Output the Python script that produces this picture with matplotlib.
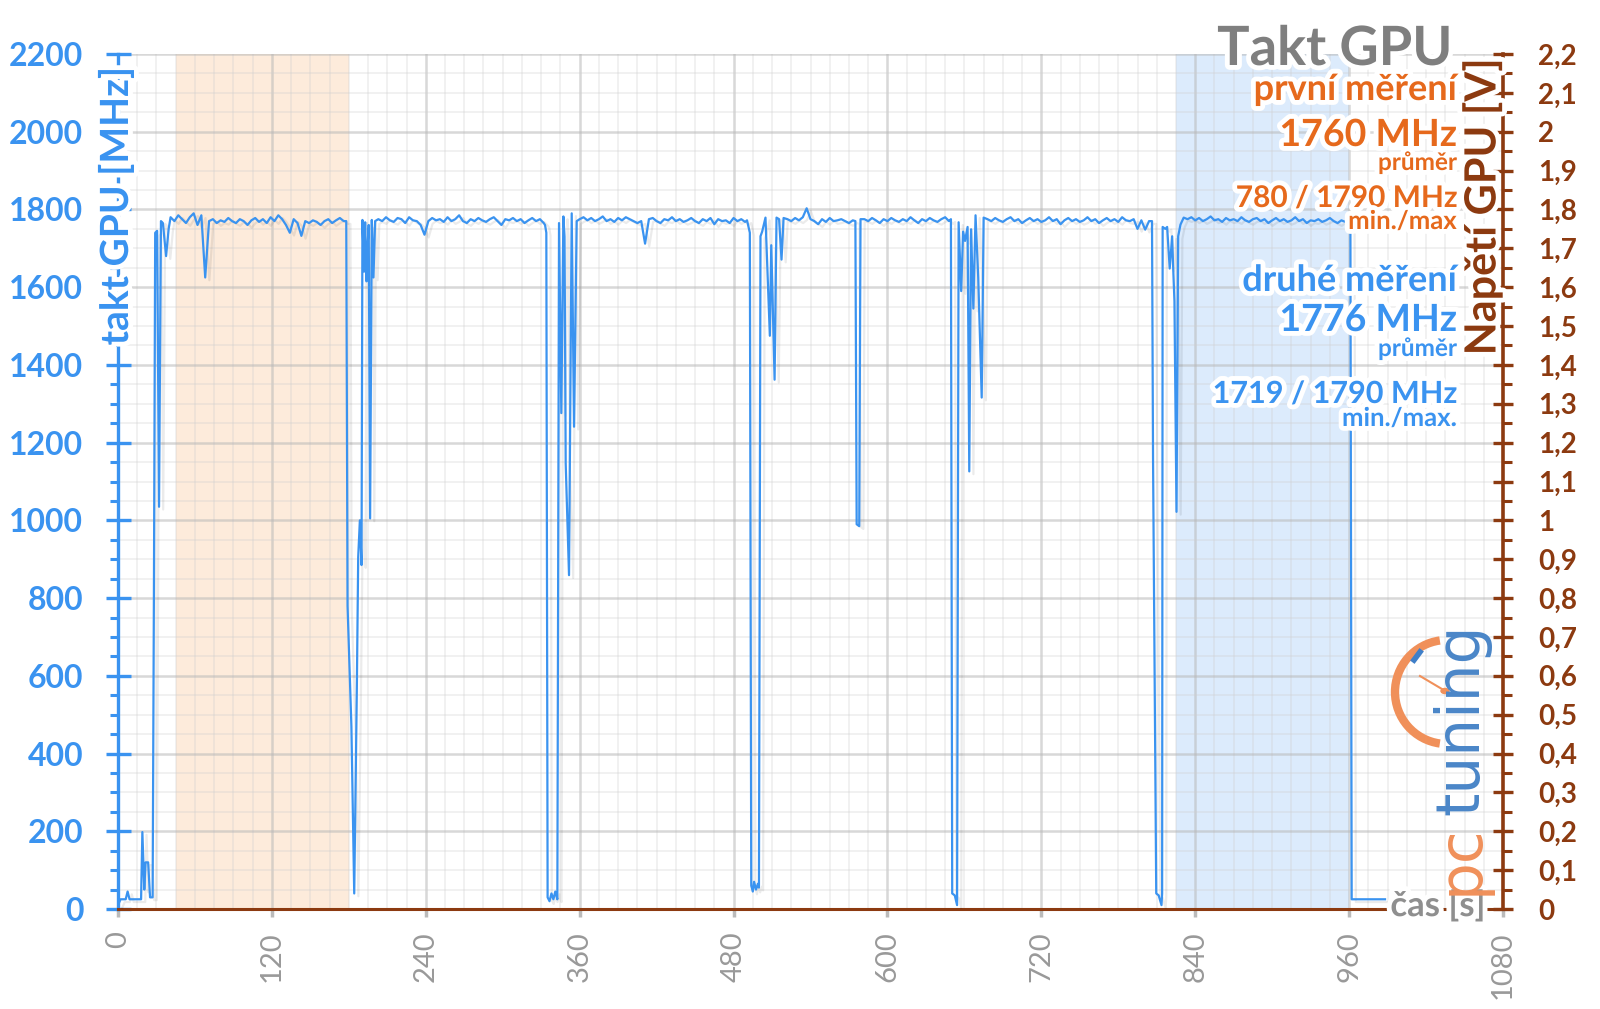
import numpy as np
import matplotlib
matplotlib.use("Agg")
import matplotlib.pyplot as plt
import matplotlib.patheffects as pe
from matplotlib.patches import Arc, Circle
from matplotlib.ticker import MultipleLocator, FuncFormatter

plt.rcParams['font.family'] = ['Lato', 'DejaVu Sans']

# barvy
BLUE = '#3a93f0'
ORANGE = '#e6691c'
BROWN = '#8c3a10'
GREY = '#999999'

# --- data: takt GPU (druhé měření) [MHz] ---
STEP = 3  # s mezi odečtenými body na plató

start_t = [0, 2, 6, 7.5, 9, 18, 19, 20.5, 21.5, 23.5, 25, 27, 28, 29, 30.5, 32, 33.5, 35, 37.5, 39.5]
start_v = [10, 25, 25, 45, 25, 25, 198, 50, 120, 120, 30, 30, 810, 1740, 1745, 1035, 1770, 1765, 1680, 1750]

plateau1_t0 = 41
plateau1 = [1780, 1770, 1785, 1775, 1765, 1780, 1790, 1760, 1785, 1625, 1770, 1775, 1765, 1772, 1768,
            1778, 1770, 1765, 1775, 1770, 1760, 1772, 1778, 1768, 1775, 1765, 1780, 1770, 1785, 1775,
            1760, 1740, 1775, 1765, 1732, 1770, 1765, 1772, 1768, 1760, 1770, 1775, 1765, 1772, 1778, 1770]

dip1_t = [178, 179, 182, 184.2, 186.2, 187.3, 188.6, 189.9, 190.6, 191.9, 192.7, 193.8, 194.5, 195.5,
          196.6, 197.9, 199.2, 200.5]
dip1_v = [1770, 780, 470, 40, 555, 905, 1000, 885, 1773, 1640, 1767, 1615, 1700, 1760, 1005, 1773, 1625, 1770]

plateau2_t0 = 203
plateau2 = [1775, 1770, 1780, 1772, 1768, 1778, 1775, 1765, 1780, 1772, 1770, 1760, 1735, 1770, 1778,
            1772, 1775, 1768, 1780, 1770, 1775, 1785, 1770, 1765, 1775, 1770, 1778, 1772, 1768, 1775,
            1780, 1770, 1760, 1775, 1772, 1778, 1770, 1775, 1765, 1772, 1778, 1770, 1775, 1765]

dip2_t = [333, 334, 335, 336.5, 338, 339.5, 341, 342.6, 343.9, 345.7, 347.3, 348.2, 349.1, 351.7,
          353.8, 355.6, 357.7]
dip2_v = [1760, 1740, 30, 20, 40, 25, 45, 25, 1765, 1276, 1782, 1730, 1147, 859, 1790, 1241, 1770]

plateau3_t0 = 360
plateau3 = [1775, 1780, 1772, 1778, 1770, 1775, 1782, 1770, 1775, 1768, 1778, 1772, 1780, 1775, 1770,
            1765, 1770, 1712, 1775, 1778, 1770, 1765, 1775, 1772, 1780, 1770, 1775, 1768, 1772, 1778,
            1770, 1765, 1775, 1770, 1778, 1762, 1775, 1770, 1772, 1765, 1778, 1770, 1775, 1768]

dip3_t = [490.5, 492.7, 493.8, 495, 496, 497.5, 499, 499.8, 501, 502.3, 504.9, 508.3, 509.4, 512,
          513.5, 515.5, 517.4, 519]
dip3_v = [1772, 1740, 60, 45, 70, 50, 65, 55, 1731, 1743, 1779, 1475, 1708, 1362, 1779, 1775, 1671, 1778]

plateau4a_t0 = 522
plateau4a = [1775, 1770, 1778, 1772, 1780, 1803, 1775, 1770, 1762, 1775, 1768, 1778, 1770, 1772,
             1775, 1770, 1765, 1772]

dip4_t = [575, 576, 578, 579]
dip4_v = [1770, 990, 985, 1775]

plateau4b_t0 = 582
plateau4b = [1775, 1770, 1778, 1772, 1765, 1775, 1770, 1778, 1772, 1768, 1775, 1770, 1780, 1772,
             1765, 1775, 1770, 1778, 1772, 1768, 1775, 1780, 1770]

dip5_t = [649.5, 650.5, 652.5, 654.3, 655.5, 657.5, 659, 660.5, 662.5, 663.8, 665.2, 667, 668.7,
          670.8, 673.5, 675]
dip5_v = [1775, 40, 35, 10, 1767, 1590, 1743, 1719, 1755, 1126, 1749, 1545, 1785, 1624, 1316, 1779]

plateau5_t0 = 678
plateau5 = [1775, 1770, 1778, 1772, 1768, 1775, 1780, 1770, 1775, 1765, 1772, 1778, 1770, 1775,
            1768, 1772, 1780, 1770, 1775, 1762, 1772, 1778, 1770, 1775, 1768, 1772, 1780, 1770,
            1775, 1765, 1772, 1778, 1770, 1775, 1768, 1780, 1772, 1770, 1775, 1750, 1772, 1748, 1770]

dip6_t = [806.3, 807.1, 809.6, 811.5, 813.7, 814.2, 814.6, 816.7, 818.1, 820.1, 822, 822.8, 823.8,
          825.4, 826.7, 828.5, 831]
dip6_v = [1770, 1160, 40, 35, 10, 40, 1755, 1750, 1755, 1648, 1731, 1650, 1564, 1022, 1731, 1761, 1779]

plateau6_t0 = 834
plateau6 = [1775, 1780, 1772, 1778, 1770, 1775, 1782, 1772, 1775, 1768, 1778, 1772, 1775, 1770,
            1780, 1772, 1768, 1775, 1778, 1770, 1775, 1765, 1772, 1778, 1770, 1775, 1768, 1772,
            1780, 1770, 1775, 1765, 1772, 1770, 1775, 1768, 1772, 1778, 1770, 1765, 1772, 1768, 1770]

end_t = [961, 962, 988]
end_v = [1770, 25, 25]

# zvýrazněné úseky [s]
band_first = (45, 180)
band_second = (825, 960)

x_ticks = [0, 120, 240, 360, 480, 600, 720, 840, 960, 1080]


def plateau(t0, vals):
    return list(t0 + STEP * np.arange(len(vals))), list(vals)


parts = [(start_t, start_v), plateau(plateau1_t0, plateau1), (dip1_t, dip1_v),
         plateau(plateau2_t0, plateau2), (dip2_t, dip2_v), plateau(plateau3_t0, plateau3),
         (dip3_t, dip3_v), plateau(plateau4a_t0, plateau4a), (dip4_t, dip4_v),
         plateau(plateau4b_t0, plateau4b), (dip5_t, dip5_v), plateau(plateau5_t0, plateau5),
         (dip6_t, dip6_v), plateau(plateau6_t0, plateau6), (end_t, end_v)]
t = np.concatenate([np.asarray(p[0], float) for p in parts])
mhz = np.concatenate([np.asarray(p[1], float) for p in parts])

W, H = 1600, 1009
fig = plt.figure(figsize=(W / 100, H / 100), dpi=100)


def fx(x):
    return x / W


def fy(y):
    return 1 - y / H


ax = fig.add_axes([fx(118), fy(909), fx(1503 - 118), (909 - 54) / H])
ax.set_xlim(0, 1080)
ax.set_ylim(0, 2200)

# pozadí - pásy a mřížka
ax.axvspan(*band_first, color='#fdebdb', zorder=0.2, lw=0)
ax.axvspan(*band_second, color='#dcebfc', zorder=0.2, lw=0)
ax.set_axisbelow(True)
ax.xaxis.set_major_locator(MultipleLocator(120))
ax.xaxis.set_minor_locator(MultipleLocator(15))
ax.yaxis.set_major_locator(MultipleLocator(200))
ax.yaxis.set_minor_locator(MultipleLocator(50))
ax.grid(which='major', color='#b8b8b8', alpha=0.55, lw=1.8)
ax.grid(which='minor', color='#cfcfcf', alpha=0.35, lw=1.2)

ax.plot(t, mhz, color=BLUE, lw=1.6, zorder=3,
        path_effects=[pe.SimpleLineShadow(offset=(3, -2), shadow_color='#000000', alpha=0.08),
                      pe.Normal()])

# osy
for s in ['top', 'right']:
    ax.spines[s].set_visible(False)
ax.spines['left'].set_color(BLUE)
ax.spines['left'].set_linewidth(2.4)
ax.spines['bottom'].set_color(BROWN)
ax.spines['bottom'].set_linewidth(2.2)

ax.set_xticks(x_ticks)
ax.tick_params(axis='x', which='major', direction='out', length=6, width=2.5, color='#bbbbbb',
               labelcolor=GREY, labelsize=21, labelrotation=90, pad=10)
ax.tick_params(axis='x', which='minor', length=0)
ax.tick_params(axis='y', which='major', direction='inout', length=18, width=2.4, color=BLUE,
               labelcolor=BLUE, labelsize=23, pad=16)
ax.tick_params(axis='y', which='minor', direction='out', length=6, width=2.2, color=BLUE)
for lab in ax.get_yticklabels():
    lab.set_fontweight('bold')

ax2 = ax.twinx()
ax2.set_ylim(0, 2.2)
for s in ['top', 'left', 'bottom']:
    ax2.spines[s].set_visible(False)
ax2.spines['right'].set_color(BROWN)
ax2.spines['right'].set_linewidth(2.6)
ax2.yaxis.set_major_locator(MultipleLocator(0.1))
ax2.yaxis.set_minor_locator(MultipleLocator(0.05))
ax2.yaxis.set_major_formatter(FuncFormatter(
    lambda v, p: f"{v:.0f}" if abs(v - round(v)) < 1e-6 else f"{v:.1f}".replace('.', ',')))
ax2.tick_params(axis='y', which='major', direction='inout', length=15, width=2.4, color=BROWN,
                labelcolor=BROWN, labelsize=20, pad=18)
ax2.tick_params(axis='y', which='minor', direction='out', length=6.5, width=2.2, color=BROWN)
for lab in ax2.get_yticklabels():
    lab.set_fontweight('bold')

glow = [pe.withStroke(linewidth=7, foreground='white')]

# popisky os
fig.text(fx(116), fy(206), 'takt GPU [MHz]', rotation=90, ha='center', va='center',
         color=BLUE, fontsize=28, fontweight='bold', path_effects=glow, zorder=5)
fig.text(fx(1482), fy(207), 'Napětí GPU [V]', rotation=90, ha='center', va='center',
         color=BROWN, fontsize=31, fontweight='bold', path_effects=glow, zorder=5)
fig.text(fx(1438), fy(906), 'čas [s]', ha='center', va='center', color='#8f8f8f',
         fontsize=25, fontweight='bold', path_effects=glow, zorder=5)

# legenda vpravo nahoře
RX = fx(1457)
legend_lines = [
    ('Takt GPU', 65, 39, '#7f7f7f'),
    ('první měření', 100, 26, ORANGE),
    ('1760 MHz', 146, 27, ORANGE),
    ('průměr', 170, 17.5, ORANGE),
    ('780 / 1790 MHz', 207, 21.5, ORANGE),
    ('min./max', 229, 18.5, ORANGE),
    ('druhé měření', 291, 26, BLUE),
    ('1776 MHz', 331, 27, BLUE),
    ('průměr', 356, 17.5, BLUE),
    ('1719 / 1790 MHz', 403, 22, BLUE),
    ('min./max.', 426, 18.5, BLUE),
]
for txt, base, size, col in legend_lines:
    x = RX if txt != 'Takt GPU' else fx(1452)
    fig.text(x, fy(base), txt, ha='right', va='baseline', color=col, fontsize=size,
             fontweight='bold', path_effects=glow, zorder=6)

# logo pctuning
fig.add_artist(Arc((fx(1447), fy(692)), 2 * 52 / W, 2 * 52 / H, theta1=95, theta2=265,
                   color='#f0905a', lw=6, transform=fig.transFigure, zorder=6))
fig.add_artist(plt.Line2D([fx(1447), fx(1420)], [fy(692), fy(676)], color='#f0905a', lw=1.5,
                          transform=fig.transFigure, zorder=6))
fig.add_artist(Circle((fx(1445), fy(691)), 4 / W, color='#f0905a', transform=fig.transFigure, zorder=6))
fig.add_artist(plt.Line2D([fx(1414), fx(1420)], [fy(660), fy(652)], color='#3f7fc8', lw=4,
                          transform=fig.transFigure, zorder=6))
fig.text(fx(1478), fy(895), 'pc', rotation=90, rotation_mode='anchor', ha='left', va='baseline',
         color='#f0905a', fontsize=43, family='DejaVu Sans', zorder=6)
fig.text(fx(1478), fy(815), 'tuning', rotation=90, rotation_mode='anchor', ha='left', va='baseline',
         color='#4a86c8', fontsize=43, family='DejaVu Sans', zorder=6)

fig.savefig('out.png', dpi=100)
